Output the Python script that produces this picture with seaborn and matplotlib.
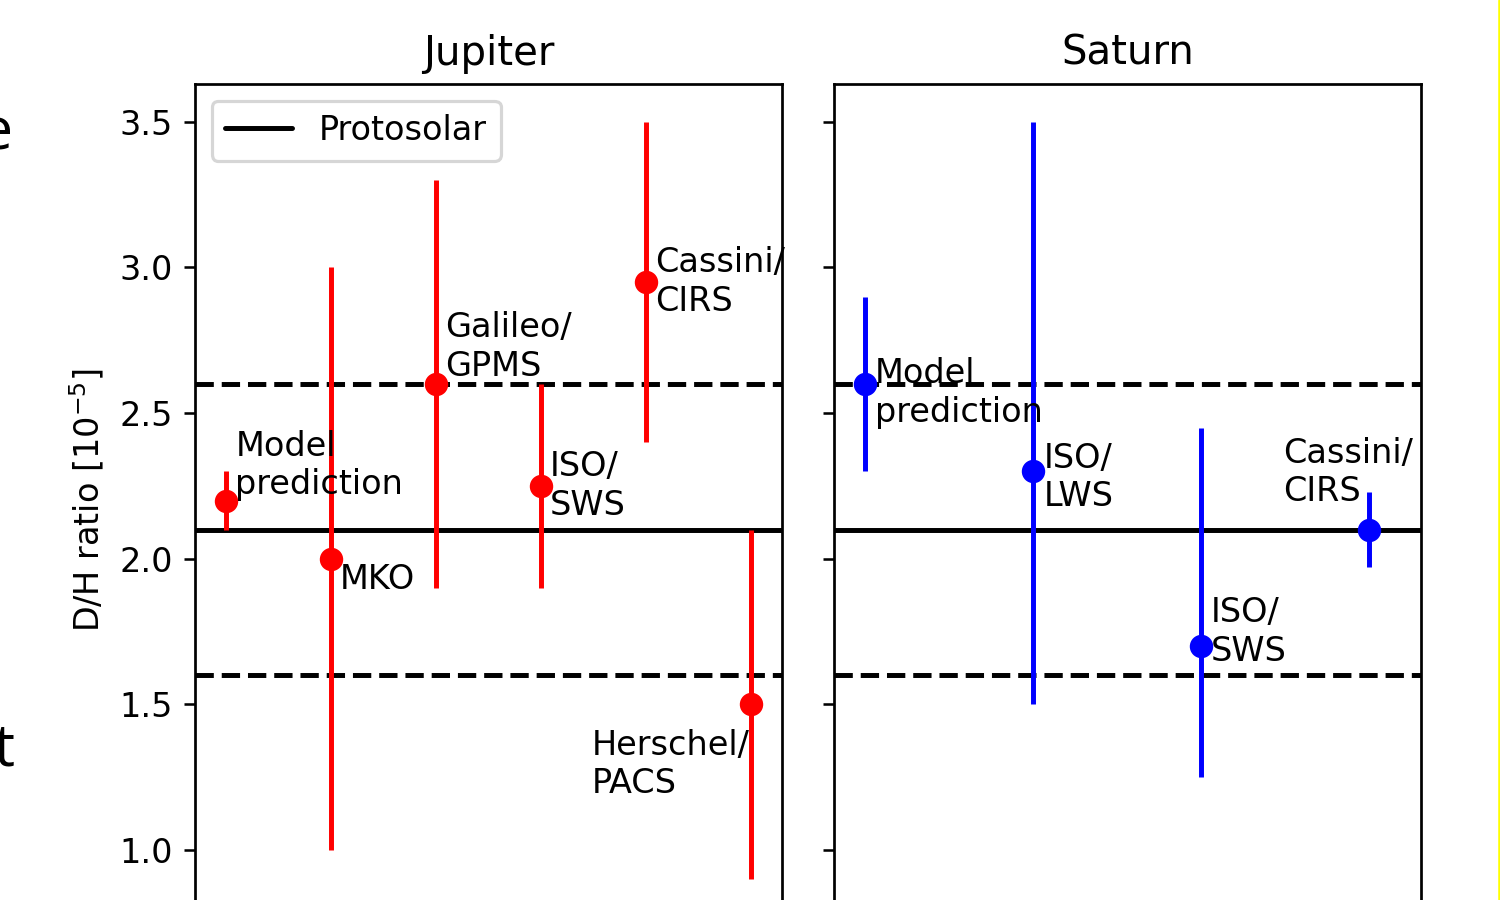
import numpy as np
import pandas as pd
import matplotlib
matplotlib.use("Agg")
import matplotlib.pyplot as plt
import seaborn as sns
from matplotlib.lines import Line2D

# ─── DATA ─────────────────────────────────────────────────────────────────────
JUP_LABELS = ["Model\nprediction", "MKO", "Galileo/\nGPMS", "ISO/\nSWS",
              "Cassini/\nCIRS", "Herschel/\nPACS"]
JUP_POS    = [0, 1, 2, 3, 4, 5]
JUP_DH     = [2.2, 2.0, 2.6, 2.25, 2.95, 1.5]
JUP_ERR_LO = [0.1, 1.0, 0.7, 0.35, 0.55, 0.6]
JUP_ERR_HI = [0.1, 1.0, 0.7, 0.35, 0.55, 0.6]

SAT_LABELS = ["Model\nprediction", "ISO/\nLWS", "ISO/\nSWS", "Cassini/\nCIRS"]
SAT_POS    = [0, 1.6, 3.2, 4.8]
SAT_DH     = [2.6, 2.3, 1.7, 2.1]
SAT_ERR_LO = [0.3, 0.8, 0.45, 0.13]
SAT_ERR_HI = [0.3, 1.2, 0.75, 0.13]

PROTOSOLAR       = 2.1
PROTOSOLAR_RANGE = [1.6, 2.6]

# ─── LABEL LAYOUT (offsets in points) ─────────────────────────────────────────
JUP_OFFSETS = [(2.8, 11.0), (2.8, -1.3), (2.8, 11.6), (2.8, 0.0), (3.0, 0.0), (-0.3, -18.8)]
JUP_HA      = ["left", "left", "left", "left", "left", "right"]
JUP_VA      = ["center", "top", "center", "center", "center", "center"]

SAT_OFFSETS = [(3.0, -2.8), (3.3, -1.9), (3.0, 4.4), (-26.6, 17.8)]
SAT_HA      = ["left", "left", "left", "left"]
SAT_VA      = ["center", "center", "center", "center"]

DPI = 230
W, H = 1500, 900
FS = 10.5

sns.set_style("ticks", {
    "axes.edgecolor": "black", "xtick.color": "black", "ytick.color": "black",
    "text.color": "black", "axes.labelcolor": "black",
})
plt.rcParams["font.family"] = ["DejaVu Sans"]
plt.rcParams["font.size"] = FS
plt.rcParams["axes.linewidth"] = 0.85


def draw_panel(ax, pos, dh, lo, hi, labels, offsets, has, vas, color, title):
    # reference band + protosolar value
    for v in PROTOSOLAR_RANGE:
        ax.axhline(v, color="black", ls="--", lw=1.55, zorder=1)
    ax.axhline(PROTOSOLAR, color="black", lw=1.55, zorder=1, label="Protosolar")

    ax.errorbar(pos, dh, yerr=[lo, hi], fmt="none", ecolor=color,
                elinewidth=1.55, capsize=0, zorder=2)
    df = pd.DataFrame({"pos": pos, "dh": dh})
    sns.scatterplot(data=df, x="pos", y="dh", color=color, s=40, linewidth=1,
                    edgecolor=color, ax=ax, zorder=3, legend=False)

    for x, y, lab, off, ha, va in zip(pos, dh, labels, offsets, has, vas):
        ax.annotate(lab, (x, y), xytext=off, textcoords="offset points",
                    ha=ha, va=va, multialignment="left", fontsize=FS, zorder=4)

    ax.set_title(title, fontsize=FS * 1.2)
    ax.set_xlabel("")
    ax.set_ylabel("")
    ax.set_xticks([])


fig = plt.figure(figsize=(W / DPI, H / DPI), dpi=DPI)
ax1 = fig.add_axes([195 / W, 1 - 917 / H, 587 / W, 833 / H])
ax2 = fig.add_axes([834 / W, 1 - 917 / H, 587 / W, 833 / H], sharex=ax1, sharey=ax1)

draw_panel(ax1, JUP_POS, JUP_DH, JUP_ERR_LO, JUP_ERR_HI, JUP_LABELS,
           JUP_OFFSETS, JUP_HA, JUP_VA, "red", "Jupiter")
draw_panel(ax2, SAT_POS, SAT_DH, SAT_ERR_LO, SAT_ERR_HI, SAT_LABELS,
           SAT_OFFSETS, SAT_HA, SAT_VA, "blue", "Saturn")

ax1.set_xlim(-0.3, 5.3)
ax1.set_ylim(0.77, 3.63)
ax1.set_yticks([1.0, 1.5, 2.0, 2.5, 3.0, 3.5])
ax1.set_ylabel(r"D/H ratio [10$^{-5}$]")
ax2.tick_params(labelleft=False)
ax1.legend(loc="upper left", fontsize=FS)

# slide remnants around the cropped figure
fig.text(13 / W, 1 - 150 / H, "e", family=["Open Sans", "DejaVu Sans"],
         fontsize=18.5, ha="right", va="baseline")
fig.text(14 / W, 1 - 765 / H, "t", family=["Open Sans", "DejaVu Sans"],
         fontsize=18.5, ha="right", va="baseline")
fig.add_artist(Line2D([1498.7 / W, 1498.7 / W], [0, 1], color="#ffff00", lw=0.8))

fig.savefig("out.png", dpi=DPI)
